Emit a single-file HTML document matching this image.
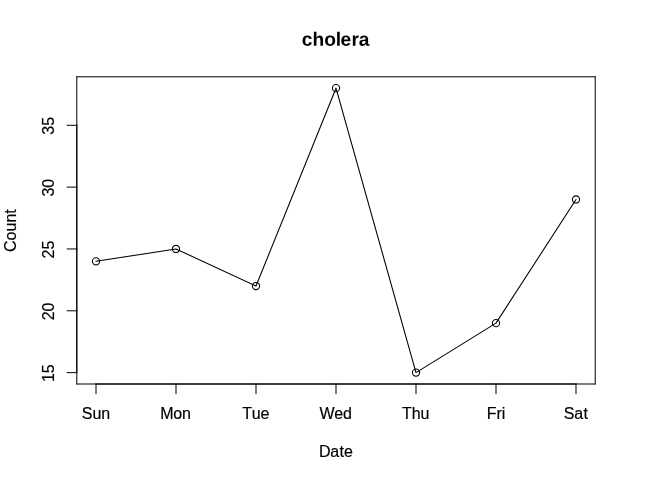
<!DOCTYPE html>
<html lang="en">
<head>
<meta charset="utf-8">
<title>cholera</title>
<style>
html,body{margin:0;padding:0;background:#fff;}
body{width:672px;height:480px;overflow:hidden;}
svg{display:block;}
text{font-family:"Liberation Sans",Arial,Helvetica,sans-serif;fill:#000;stroke:#000;stroke-width:0.18px;stroke-linejoin:round;}
.t{font-size:16px;}
.m{font-size:19.2px;font-weight:bold;stroke-width:0;}
.d{stroke:#000;stroke-width:1.08;fill:none;stroke-linecap:round;stroke-linejoin:round;}
.a{fill:#000;stroke:none;}
</style>
</head>
<body>
<svg width="672" height="480" viewBox="0 0 672 480">
<rect x="0" y="0" width="672" height="480" fill="#ffffff"/>
<g id="series">
<polyline class="d" points="96.00,261.32 176.00,248.95 256.00,286.05 336.00,88.18 416.00,372.62 496.00,323.15 576.00,199.48"/>
<circle class="d" cx="96.00" cy="261.32" r="3.6"/>
<circle class="d" cx="176.00" cy="248.95" r="3.6"/>
<circle class="d" cx="256.00" cy="286.05" r="3.6"/>
<circle class="d" cx="336.00" cy="88.18" r="3.6"/>
<circle class="d" cx="416.00" cy="372.62" r="3.6"/>
<circle class="d" cx="496.00" cy="323.15" r="3.6"/>
<circle class="d" cx="576.00" cy="199.48" r="3.6"/>
</g>
<g id="box">
<rect class="a" x="76.30" y="76.30" width="519.40" height="1.00"/>
<rect class="a" x="76.30" y="76.30" width="1.00" height="308.20"/>
<rect class="a" x="594.70" y="76.30" width="1.00" height="308.20"/>
<rect class="a" x="76.30" y="383.50" width="519.40" height="1.00"/>
</g>
<g id="x-axis">
<rect class="a" x="95.50" y="383.50" width="481.00" height="1.00"/>
<rect class="a" x="95.50" y="383.50" width="1.00" height="10.60"/>
<text class="t" x="81.77 92.44 101.33" y="418.90">Sun</text>
<rect class="a" x="175.50" y="383.50" width="1.00" height="10.60"/>
<text class="t" x="160.29 173.17 182.06" y="418.90">Mon</text>
<rect class="a" x="255.50" y="383.50" width="1.00" height="10.60"/>
<text class="t" x="242.16 251.68 260.59" y="418.90">Tue</text>
<rect class="a" x="335.50" y="383.50" width="1.00" height="10.60"/>
<text class="t" x="319.45 334.21 342.90" y="418.90">Wed</text>
<rect class="a" x="415.50" y="383.50" width="1.00" height="10.60"/>
<text class="t" x="401.91 411.68 420.58" y="418.90">Thu</text>
<rect class="a" x="495.50" y="383.50" width="1.00" height="10.60"/>
<text class="t" x="486.67 496.44 501.77" y="418.90">Fri</text>
<rect class="a" x="575.50" y="383.50" width="1.00" height="10.60"/>
<text class="t" x="563.69 574.16 583.55" y="418.90">Sat</text>
</g>
<g id="y-axis">
<rect class="a" x="76.30" y="124.78" width="1.00" height="248.34"/>
<rect class="a" x="66.70" y="372.12" width="10.60" height="1.00"/>
<text class="t" transform="translate(54.2,373.22) rotate(-90)" text-anchor="middle">15</text>
<rect class="a" x="66.70" y="310.29" width="10.60" height="1.00"/>
<text class="t" transform="translate(54.2,311.39) rotate(-90)" text-anchor="middle">20</text>
<rect class="a" x="66.70" y="248.45" width="10.60" height="1.00"/>
<text class="t" transform="translate(54.2,249.55) rotate(-90)" text-anchor="middle">25</text>
<rect class="a" x="66.70" y="186.61" width="10.60" height="1.00"/>
<text class="t" transform="translate(54.2,187.71) rotate(-90)" text-anchor="middle">30</text>
<rect class="a" x="66.70" y="124.78" width="10.60" height="1.00"/>
<text class="t" transform="translate(54.2,125.88) rotate(-90)" text-anchor="middle">35</text>
</g>
<text class="t" transform="translate(15.55,230.60) rotate(-90)" text-anchor="middle">Count</text>
<text class="t" x="319.10 330.25 339.55 343.99" y="456.80">Date</text>
<text class="m" x="301.87 312.52 324.26 335.68 340.40 351.48 358.85" y="45.80" transform="rotate(0.05 336.00 45.80)">cholera</text>
</svg>
</body>
</html>
